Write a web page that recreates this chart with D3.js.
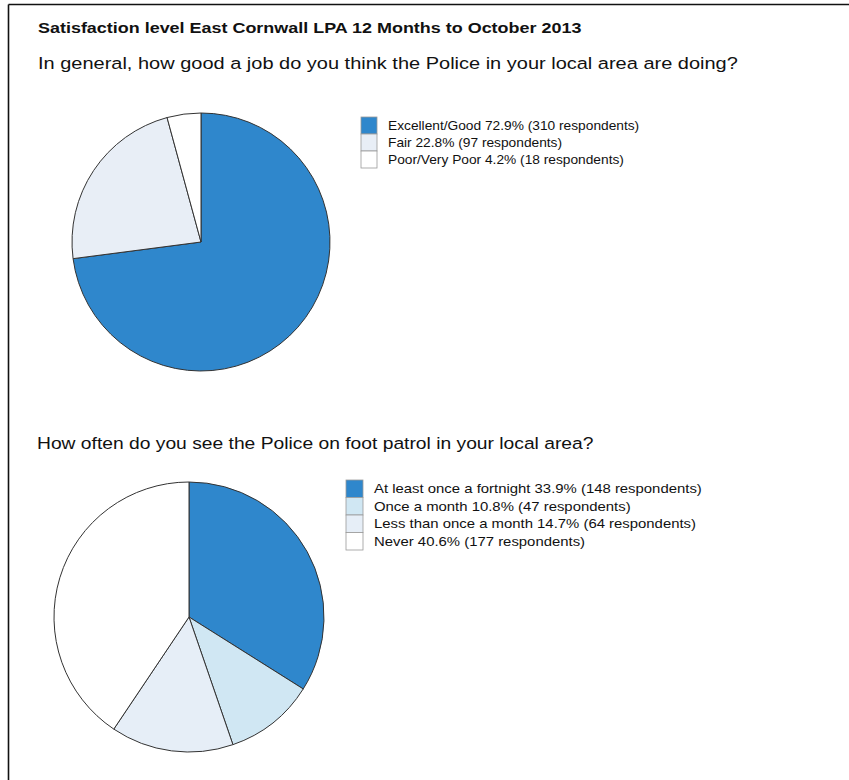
<!DOCTYPE html>
<html>
<head>
<meta charset="utf-8">
<script src="https://cdn.jsdelivr.net/npm/d3@7"></script>
<style>
  body { margin: 0; background: #fff; }
  svg text { font-family: "Liberation Sans", Arial, sans-serif; fill: #111; }
</style>
</head>
<body>
<svg id="chart" width="849" height="780"></svg>
<script>
// data
var titleText = "Satisfaction level East Cornwall LPA 12 Months to October 2013";

var q1Text = "In general, how good a job do you think the Police in your local area are doing?";
var q1Labels = ["Excellent/Good", "Fair", "Poor/Very Poor"];
var q1Counts = [310, 97, 18];
var q1Pct = ["72.9%", "22.8%", "4.2%"];
var q1Colors = ["#2f87cc", "#e8eef6", "#ffffff"];

var q2Text = "How often do you see the Police on foot patrol in your local area?";
var q2Labels = ["At least once a fortnight", "Once a month", "Less than once a month", "Never"];
var q2Counts = [148, 47, 64, 177];
var q2Pct = ["33.9%", "10.8%", "14.7%", "40.6%"];
var q2Colors = ["#2f87cc", "#d0e7f3", "#e6eef7", "#ffffff"];

var svg = d3.select("#chart");

// page frame (top and left edge of the scan)
svg.append("line").attr("x1", 8.5).attr("y1", 4.5).attr("x2", 849).attr("y2", 4.5)
  .attr("stroke", "#111").attr("stroke-width", 1.6);
svg.append("line").attr("x1", 8.5).attr("y1", 4.5).attr("x2", 8.5).attr("y2", 780)
  .attr("stroke", "#111").attr("stroke-width", 1.6);

// the scan is a bit stretched sideways, so text gets a horizontal scale
function stretchedText(x, y, size, sx, str, bold) {
  var t = svg.append("g")
    .attr("transform", "translate(" + x + "," + y + ") scale(" + sx + ",1)")
    .append("text")
    .attr("font-size", size)
    .text(str);
  if (bold) t.attr("font-weight", "bold");
  return t;
}

stretchedText(38, 33, "15px", 1.197, titleText, true);

function drawPie(cfg) {
  stretchedText(cfg.qx, cfg.qy, cfg.qsize, cfg.qsx, cfg.question);

  var pie = d3.pie().sort(null).value(function(d) { return d; });
  var arc = d3.arc().innerRadius(0).outerRadius(cfg.r);

  var g = svg.append("g").attr("transform", "translate(" + cfg.cx + "," + cfg.cy + ")");
  g.selectAll("path")
    .data(pie(cfg.counts))
    .enter()
    .append("path")
    .attr("d", arc)
    .attr("fill", function(d, i) { return cfg.colors[i]; })
    .attr("stroke", "#333")
    .attr("stroke-width", 1)
    .attr("stroke-linejoin", "round");

  var leg = svg.append("g").attr("transform", "translate(" + cfg.lx + "," + cfg.ly + ")");
  var y = d3.scaleBand().domain(d3.range(cfg.labels.length))
    .range([0, cfg.labels.length * cfg.rowH]);

  leg.selectAll("rect")
    .data(cfg.labels)
    .enter()
    .append("rect")
    .attr("x", 0)
    .attr("y", function(d, i) { return y(i); })
    .attr("width", cfg.boxW)
    .attr("height", y.bandwidth())
    .attr("fill", function(d, i) { return cfg.colors[i]; })
    .attr("stroke", "#999")
    .attr("stroke-width", 0.8);

  leg.selectAll("g.lab")
    .data(cfg.labels)
    .enter()
    .append("g")
    .attr("class", "lab")
    .attr("transform", function(d, i) {
      return "translate(" + cfg.textX + "," + (y(i) + y.bandwidth() / 2 + 4.5) + ") scale(" + cfg.lsx + ",1)";
    })
    .append("text")
    .attr("font-size", cfg.lsize)
    .text(function(d, i) {
      return d + " " + cfg.pct[i] + " (" + cfg.counts[i] + " respondents)";
    });
}

drawPie({
  question: q1Text, qx: 38, qy: 69, qsize: "17px", qsx: 1.176,
  labels: q1Labels, counts: q1Counts, pct: q1Pct, colors: q1Colors,
  cx: 201, cy: 242, r: 129,
  lx: 361, ly: 117, rowH: 17, boxW: 16, textX: 27, lsize: "12.5px", lsx: 1.1
});

drawPie({
  question: q2Text, qx: 37, qy: 449, qsize: "17px", qsx: 1.133,
  labels: q2Labels, counts: q2Counts, pct: q2Pct, colors: q2Colors,
  cx: 189, cy: 617, r: 135,
  lx: 346, ly: 480, rowH: 17.5, boxW: 17, textX: 28, lsize: "13px", lsx: 1.147
});
</script>
</body>
</html>
